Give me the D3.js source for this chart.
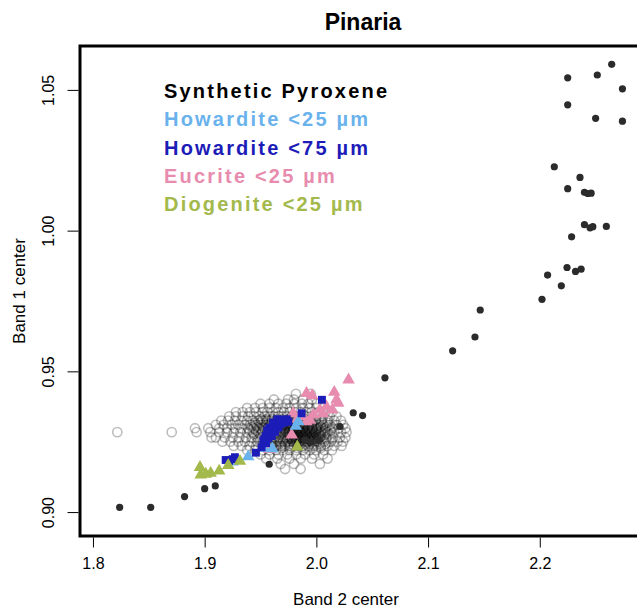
<!DOCTYPE html>
<html>
<head>
<meta charset="utf-8">
<script src="https://cdn.jsdelivr.net/npm/d3@7"></script>
<style>
  body { margin: 0; background: #fff; }
  text { font-family: "Liberation Sans", Arial, sans-serif; }
</style>
</head>
<body>
<div id="chart"></div>
<script>
// Pinaria spectra (hollow grey circles), one row per band 1 value
let cloudRows = [
    [0.9420, [1.9817, 1.9950]],
    [0.9400, [1.9620, 1.9746, 1.9800, 1.9880, 1.9960]],
    [0.9385, [1.950, 1.958, 1.966, 1.973, 1.980, 1.987, 1.993, 2.000]],
    [0.9370, [1.938, 1.945, 1.952, 1.958, 1.964, 1.970, 1.976, 1.982, 1.988, 1.994, 2.000, 2.006]],
    [0.9355, [1.9405, 1.9519, 1.928, 1.934, 1.946, 1.956, 1.961, 1.966, 1.971, 1.976, 1.981, 1.986, 1.991, 1.996, 2.002, 2.008, 2.014]],
    [0.9340, [1.922, 1.928, 1.934, 1.939, 1.944, 1.949, 1.954, 1.958, 1.962, 1.966, 1.970, 1.974, 1.978, 1.982, 1.986, 1.990, 1.995, 2.000, 2.006, 2.012, 2.018]],
    [0.9325, [1.915, 1.921, 1.927, 1.933, 1.938, 1.943, 1.948, 1.952, 1.956, 1.960, 1.964, 1.968, 1.971, 1.974, 1.977, 1.980, 1.983, 1.986, 1.990, 1.994, 1.999, 2.004, 2.010, 2.016, 2.022]],
    [0.9310, [1.910, 1.917, 1.924, 1.930, 1.936, 1.941, 1.946, 1.951, 1.955, 1.959, 1.963, 1.967, 1.970, 1.973, 1.976, 1.979, 1.982, 1.985, 1.988, 1.992, 1.996, 2.001, 2.006, 2.012, 2.018, 2.024]],
    [0.9298, [1.8913, 1.9032, 1.913, 1.920, 1.927, 1.933, 1.939, 1.944, 1.949, 1.953, 1.957, 1.961, 1.965, 1.968, 1.971, 1.974, 1.977, 1.980, 1.983, 1.986, 1.989, 1.993, 1.997, 2.002, 2.008, 2.014, 2.020, 2.026]],
    [0.9284, [1.8218, 1.8705, 1.8928, 1.905, 1.913, 1.920, 1.926, 1.932, 1.938, 1.943, 1.948, 1.952, 1.956, 1.960, 1.964, 1.967, 1.970, 1.973, 1.976, 1.979, 1.982, 1.985, 1.988, 1.991, 1.995, 1.999, 2.004, 2.010, 2.016, 2.022, 2.027]],
    [0.9265, [1.9062, 1.910, 1.918, 1.925, 1.931, 1.937, 1.942, 1.947, 1.951, 1.955, 1.959, 1.963, 1.966, 1.969, 1.972, 1.975, 1.978, 1.981, 1.984, 1.987, 1.990, 1.994, 1.998, 2.003, 2.009, 2.015, 2.021, 2.026]],
    [0.9250, [1.916, 1.923, 1.930, 1.936, 1.942, 1.947, 1.952, 1.956, 1.960, 1.964, 1.967, 1.970, 1.973, 1.976, 1.979, 1.982, 1.985, 1.988, 1.992, 1.996, 2.001, 2.007, 2.013, 2.019, 2.024]],
    [0.9235, [1.926, 1.933, 1.940, 1.946, 1.951, 1.956, 1.960, 1.964, 1.968, 1.972, 1.976, 1.980, 1.984, 1.988, 1.993, 1.998, 2.004, 2.010, 2.016, 2.0226]],
    [0.9220, [1.938, 1.945, 1.952, 1.958, 1.964, 1.970, 1.976, 1.982, 1.988, 1.994, 2.000, 2.007, 2.014]],
    [0.9205, [1.950, 1.958, 1.966, 1.974, 1.982, 1.990, 1.998, 2.006]],
    [0.9190, [1.955, 1.965, 1.976, 1.986, 1.996, 2.010]],
    [0.9171, [1.968, 1.980, 2.0032]],
    [0.9153, [1.9859, 1.9720]],
    // denser core of the cloud
    [0.9330, [1.950, 1.955, 1.960, 1.965, 1.970, 1.975, 1.980, 1.985, 1.990, 1.995, 2.000, 2.005]],
    [0.9318, [1.945, 1.950, 1.955, 1.960, 1.964, 1.968, 1.972, 1.976, 1.980, 1.984, 1.988, 1.992, 1.996, 2.000, 2.005, 2.010]],
    [0.9303, [1.942, 1.947, 1.952, 1.957, 1.962, 1.966, 1.970, 1.974, 1.978, 1.981, 1.984, 1.987, 1.990, 1.993, 1.996, 2.000, 2.004, 2.009, 2.014]],
    [0.9290, [1.940, 1.946, 1.952, 1.958, 1.963, 1.968, 1.972, 1.976, 1.979, 1.982, 1.985, 1.988, 1.991, 1.994, 1.997, 2.000, 2.004, 2.008, 2.013]],
    [0.9276, [1.944, 1.950, 1.956, 1.962, 1.967, 1.972, 1.976, 1.979, 1.982, 1.985, 1.988, 1.991, 1.994, 1.997, 2.000, 2.003, 2.007, 2.012]],
    [0.9258, [1.948, 1.954, 1.960, 1.965, 1.970, 1.974, 1.978, 1.981, 1.984, 1.987, 1.990, 1.993, 1.996, 2.000, 2.004, 2.009, 2.014]],
    [0.9242, [1.955, 1.961, 1.967, 1.972, 1.977, 1.982, 1.986, 1.990, 1.994, 1.998, 2.003, 2.008]],
    [0.9228, [1.962, 1.969, 1.976, 1.983, 1.990, 1.997, 2.004]],
    [0.9296, [1.976, 1.980, 1.984, 1.988, 1.992, 1.996, 2.000]],
    [0.9282, [1.974, 1.978, 1.982, 1.986, 1.990, 1.994, 1.998, 2.002, 2.006]],
    [0.9270, [1.976, 1.980, 1.984, 1.988, 1.992, 1.996, 2.000, 2.004]],
    [0.9262, [1.978, 1.982, 1.986, 1.990, 1.994, 1.998, 2.002]],
    [0.9252, [1.980, 1.985, 1.990, 1.995, 2.000]]
]

let pyroxene = [
    [1.8239, 0.9017], [1.8517, 0.9017], [1.8820, 0.9055], [1.9000, 0.9083], [1.9095, 0.9093],
    [1.9578, 0.9170], [1.9898, 0.9256], [1.9949, 0.9248], [2.0012, 0.9256], [2.0211, 0.9304],
    [2.0330, 0.9353], [2.0414, 0.9343], [2.0614, 0.9477], [2.1220, 0.9573], [2.1420, 0.9622],
    [2.1467, 0.9718], [2.2020, 0.9756], [2.2193, 0.9804], [2.2070, 0.9842], [2.2244, 0.9869],
    [2.2320, 0.9855], [2.2370, 0.9863], [2.2285, 0.9978], [2.2400, 1.0021], [2.2450, 1.0010],
    [2.2475, 1.0014], [2.2596, 1.0015], [2.2250, 1.0149], [2.2400, 1.0136], [2.2430, 1.0132],
    [2.2460, 1.0133], [2.2360, 1.0189], [2.2130, 1.0227], [2.2500, 1.0399], [2.2740, 1.0389],
    [2.2250, 1.0447], [2.2740, 1.0504], [2.2250, 1.0543], [2.2515, 1.0553], [2.2644, 1.0591]
]

let howardite25 = [
    [1.9390, 0.9197], [1.9525, 0.9227], [1.9838, 0.9321], [1.9815, 0.9305],
    [1.9570, 0.9288], [1.9605, 0.9225], [1.9250, 0.9178]
]

let howardite75 = [
    [1.9188, 0.9185], [1.9218, 0.9182], [1.9250, 0.9188], [1.9271, 0.9195], [1.9459, 0.9211],
    [1.9510, 0.9230], [1.9550, 0.9245], [1.9525, 0.9255], [1.9570, 0.9262], [1.9545, 0.9270],
    [1.9600, 0.9270], [1.9585, 0.9280], [1.9630, 0.9285], [1.9620, 0.9295], [1.9660, 0.9300],
    [1.9640, 0.9308], [1.9680, 0.9312], [1.9665, 0.9320], [1.9710, 0.9318], [1.9705, 0.9328],
    [1.9749, 0.9321], [1.9580, 0.9300], [1.9868, 0.9351], [2.0050, 0.9399], [1.9560, 0.9290],
    [1.9610, 0.9318], [1.9650, 0.9330], [1.9735, 0.9330], [1.9540, 0.9258]
]

let eucrite = [
    [2.0288, 0.9470], [1.9912, 0.9422], [1.9963, 0.9414], [2.0160, 0.9426], [2.0196, 0.9387],
    [2.0180, 0.9399], [2.0090, 0.9375], [2.0030, 0.9363], [1.9972, 0.9345], [1.9942, 0.9327],
    [1.9912, 0.9321], [1.9793, 0.9351], [1.9779, 0.9274], [1.9578, 0.9223], [2.0142, 0.9363],
    [2.0060, 0.9350], [1.9875, 0.9340], [1.9830, 0.9330]
]

let diogenite = [
    [1.8958, 0.9159], [1.8964, 0.9132], [1.9054, 0.9138], [1.9130, 0.9146], [1.9211, 0.9166],
    [1.9316, 0.9181], [1.9829, 0.9232], [1.9010, 0.9135]
]

let xTicks = [1.8, 1.9, 2.0, 2.1, 2.2]
let yTicks = [0.90, 0.95, 1.00, 1.05]
let legendLabels = ["Synthetic Pyroxene", "Howardite <25 µm", "Howardite <75 µm", "Eucrite <25 µm", "Diogenite <25 µm"]
let legendColors = ["#000000", "#6ab2ec", "#1c1cb8", "#e78cae", "#a3b94c"]

let width = 637
let height = 611
let plotLeft = 80, plotRight = 646, plotTop = 46, plotBottom = 536

let x = d3.scaleLinear().domain([1.7884, 2.2951]).range([plotLeft, plotRight])
let y = d3.scaleLinear().domain([0.8915, 1.0656]).range([plotBottom, plotTop])

let svg = d3.select("#chart")
    .append("svg")
    .attr("width", width)
    .attr("height", height)

svg.append("defs").append("clipPath")
    .attr("id", "plotclip")
    .append("rect")
    .attr("x", plotLeft)
    .attr("y", plotTop)
    .attr("width", plotRight - plotLeft)
    .attr("height", plotBottom - plotTop)

let plot = svg.append("g").attr("clip-path", "url(#plotclip)")

// grey cloud of spectra
let cloud = []
cloudRows.forEach(function (row) {
    row[1].forEach(function (v) { cloud.push([v, row[0]]) })
})
plot.selectAll("circle.cloud")
    .data(cloud)
    .enter()
    .append("circle")
    .attr("class", "cloud")
    .attr("cx", d => x(d[0]))
    .attr("cy", d => y(d[1]))
    .attr("r", 4.6)
    .attr("fill", "none")
    .attr("stroke", "#000")
    .attr("stroke-opacity", 0.26)
    .attr("stroke-width", 1.6)

plot.selectAll("circle.pyx")
    .data(pyroxene)
    .enter()
    .append("circle")
    .attr("class", "pyx")
    .attr("cx", d => x(d[0]))
    .attr("cy", d => y(d[1]))
    .attr("r", 3.6)
    .attr("fill", "#2b2b2b")

let tri = d3.symbol().type(d3.symbolTriangle).size(68)
let sq = d3.symbol().type(d3.symbolSquare).size(62)

function drawSymbols(data, sym, color) {
    plot.append("g")
        .selectAll("path")
        .data(data)
        .enter()
        .append("path")
        .attr("d", sym)
        .attr("transform", d => "translate(" + x(d[0]) + "," + y(d[1]) + ")")
        .attr("fill", color)
}
drawSymbols(eucrite, tri, legendColors[3])
drawSymbols(howardite25, tri, legendColors[1])
drawSymbols(howardite75, sq, legendColors[2])
drawSymbols(diogenite, tri, legendColors[4])

// frame
svg.append("rect")
    .attr("x", plotLeft)
    .attr("y", plotTop)
    .attr("width", plotRight - plotLeft)
    .attr("height", plotBottom - plotTop)
    .attr("fill", "none")
    .attr("stroke", "#000")
    .attr("stroke-width", 3)

// axes
let xAxis = svg.append("g")
    .attr("transform", "translate(0," + (plotBottom + 1.5) + ")")
    .call(d3.axisBottom(x).tickValues(xTicks).tickFormat(d3.format(".1f")).tickSize(10).tickPadding(10))
xAxis.select(".domain").remove()
xAxis.selectAll("text").attr("font-size", 16).attr("fill", "#000")
    .attr("font-family", "Liberation Sans, Arial, sans-serif")

let yAxis = svg.append("g")
    .attr("transform", "translate(" + (plotLeft - 1.5) + ",0)")
    .call(d3.axisLeft(y).tickValues(yTicks).tickFormat(d3.format(".2f")).tickSize(11))
yAxis.select(".domain").remove()
yAxis.selectAll("text")
    .attr("font-size", 16)
    .attr("fill", "#000")
    .attr("font-family", "Liberation Sans, Arial, sans-serif")
    .attr("x", null)
    .attr("dy", null)
    .attr("text-anchor", "middle")
    .attr("transform", "translate(-25,0) rotate(-90)")

// titles
svg.append("text")
    .attr("x", (plotLeft + plotRight) / 2)
    .attr("y", 30)
    .attr("text-anchor", "middle")
    .attr("font-size", 23)
    .attr("font-weight", "bold")
    .text("Pinaria")

svg.append("text")
    .attr("x", (plotLeft + plotRight) / 2 - 17)
    .attr("y", 605)
    .attr("text-anchor", "middle")
    .attr("font-size", 17)
    .text("Band 2 center")

svg.append("text")
    .attr("transform", "translate(25," + (plotTop + plotBottom) / 2 + ") rotate(-90)")
    .attr("text-anchor", "middle")
    .attr("font-size", 17)
    .text("Band 1 center")

// legend
svg.append("g")
    .selectAll("text")
    .data(legendLabels)
    .enter()
    .append("text")
    .attr("x", 164)
    .attr("y", (d, i) => 98 + i * 28.3)
    .attr("font-size", 20)
    .attr("font-weight", "bold")
    .attr("letter-spacing", 2.2)
    .attr("fill", (d, i) => legendColors[i])
    .text(d => d)
</script>
</body>
</html>
